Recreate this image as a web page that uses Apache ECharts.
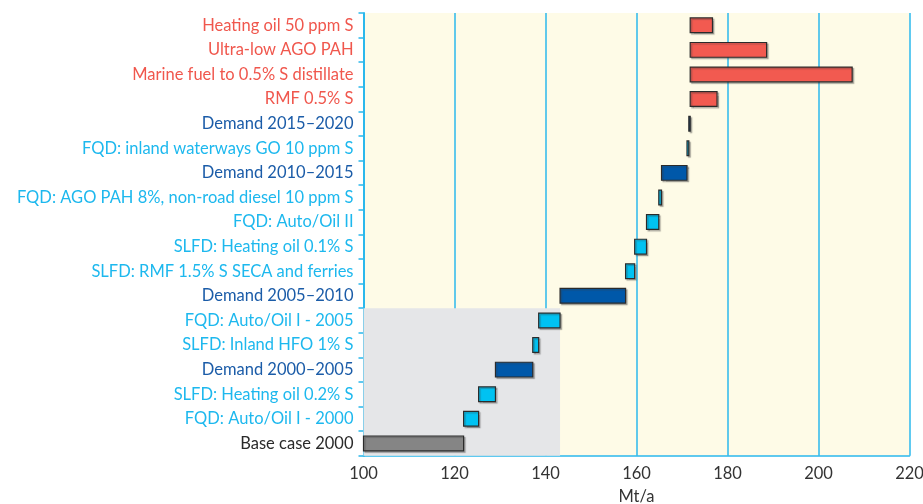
<!DOCTYPE html>
<html>
<head>
<meta charset="utf-8">
<script src="https://cdn.jsdelivr.net/npm/echarts@6/dist/echarts.min.js"></script>
<style>
  html, body { margin: 0; padding: 0; background: #ffffff; }
  #chart { width: 923px; height: 504px; }
</style>
</head>
<body>
<div id="chart"></div>
<script>
// Refinery demand build-up, listed from the bottom row upwards
const categories = [
  'Base case 2000',
  'FQD: Auto/Oil I - 2000',
  'SLFD: Heating oil 0.2% S',
  'Demand 2000–2005',
  'SLFD: Inland HFO 1% S',
  'FQD: Auto/Oil I - 2005',
  'Demand 2005–2010',
  'SLFD: RMF 1.5% S SECA and ferries',
  'SLFD: Heating oil 0.1% S',
  'FQD: Auto/Oil II',
  'FQD: AGO PAH 8%, non-road diesel 10 ppm S',
  'Demand 2010–2015',
  'FQD: inland waterways GO 10 ppm S',
  'Demand 2015–2020',
  'RMF 0.5% S',
  'Marine fuel to 0.5% S distillate',
  'Ultra-low AGO PAH',
  'Heating oil 50 ppm S'
];

// Start and end of each bar (Mt/a)
const barStart = [100, 122.0, 125.3, 129.0, 137.2, 138.5, 143.2, 157.6, 159.6, 162.2, 164.9, 165.5, 171.1, 171.5, 171.8, 171.8, 171.8, 171.8];
const barEnd   = [122.0, 125.3, 129.0, 137.2, 138.5, 143.2, 157.6, 159.6, 162.2, 164.9, 165.5, 171.1, 171.5, 171.8, 177.7, 207.4, 188.6, 176.7];

// Group of each row: base, regulation, demand, option
const groups = ['base', 'reg', 'reg', 'demand', 'reg', 'reg', 'demand', 'reg', 'reg', 'reg', 'reg', 'demand', 'reg', 'demand', 'option', 'option', 'option', 'option'];

// Shaded period (2000–2005 rows)
const shadeRows = ['Base case 2000', 'FQD: Auto/Oil I - 2005'];
const shadeRange = [100, 143.2];

const xTicks = { min: 100, max: 220, interval: 20 };

const barColors = { base: '#858585', reg: '#00c2f2', demand: '#0058a9', option: '#f25a50' };
const labelColors = { base: '#2a2a2a', reg: '#1db8ee', demand: '#1b5ca8', option: '#f0574d' };

const chart = echarts.init(document.getElementById('chart'));

const labelRich = {};
Object.keys(labelColors).forEach(k => {
  labelRich[k] = { color: labelColors[k], fontFamily: 'Lato', fontSize: 16.5 };
});

const rowIndex = name => categories.indexOf(name);

chart.setOption({
  animation: false,
  grid: {
    left: 363.5, right: 13.5, top: 13, bottom: 48.3,
    outerBoundsMode: 'none',
    containLabel: false,
    show: true, backgroundColor: '#fefbe7', borderWidth: 0
  },
  xAxis: {
    type: 'value',
    min: xTicks.min, max: xTicks.max, interval: xTicks.interval,
    name: 'Mt/a', nameLocation: 'middle', nameGap: 32,
    nameTextStyle: { color: '#333', fontFamily: 'Lato', fontSize: 16.5 },
    axisLine: { show: true, onZero: false, lineStyle: { color: '#2bb8ec', width: 1.5 } },
    axisTick: { show: false },
    axisLabel: { color: '#333', fontFamily: 'Lato', fontSize: 16.5, margin: 9 },
    splitLine: { show: true, lineStyle: { color: '#2bb8ec', width: 1.5 } }
  },
  yAxis: {
    type: 'category',
    data: categories,
    axisLine: { show: true, lineStyle: { color: '#2bb8ec', width: 2 } },
    axisTick: { show: true, length: 5, lineStyle: { color: '#2bb8ec', width: 1.5 } },
    axisLabel: {
      margin: 10,
      formatter: (v, i) => '{' + groups[i] + '|' + v + '}',
      rich: labelRich
    },
    splitLine: { show: false }
  },
  series: [
    {
      // grey shading behind the 2000–2005 rows
      type: 'custom',
      silent: true,
      z: 1,
      data: [0],
      renderItem: (params, api) => {
        const lo = rowIndex(shadeRows[0]);
        const hi = rowIndex(shadeRows[1]);
        const band = api.size([0, 1])[1];
        const p0 = api.coord([shadeRange[0], lo]);
        const p1 = api.coord([shadeRange[1], hi]);
        const yTop = p1[1] - band / 2;
        const yBot = p0[1] + band / 2;
        return {
          type: 'rect',
          shape: { x: p0[0], y: yTop, width: p1[0] - p0[0], height: yBot - yTop },
          style: { fill: '#e5e6e8' }
        };
      }
    },
    {
      type: 'custom',
      z: 3,
      data: categories.map((c, i) => [barStart[i], barEnd[i], i]),
      encode: { x: [0, 1], y: 2 },
      renderItem: (params, api) => {
        const i = api.value(2);
        const a = api.coord([api.value(0), i]);
        const b = api.coord([api.value(1), i]);
        const h = api.size([0, 1])[1] * 0.6;
        return {
          type: 'rect',
          shape: { x: a[0], y: a[1] - h / 2, width: b[0] - a[0], height: h },
          style: {
            fill: barColors[groups[i]],
            stroke: '#2b2b2b',
            lineWidth: 1.2,
            shadowColor: 'rgba(60,60,60,0.35)',
            shadowOffsetX: 1.5,
            shadowOffsetY: 1.5,
            shadowBlur: 1
          }
        };
      }
    }
  ]
});
</script>
</body>
</html>
